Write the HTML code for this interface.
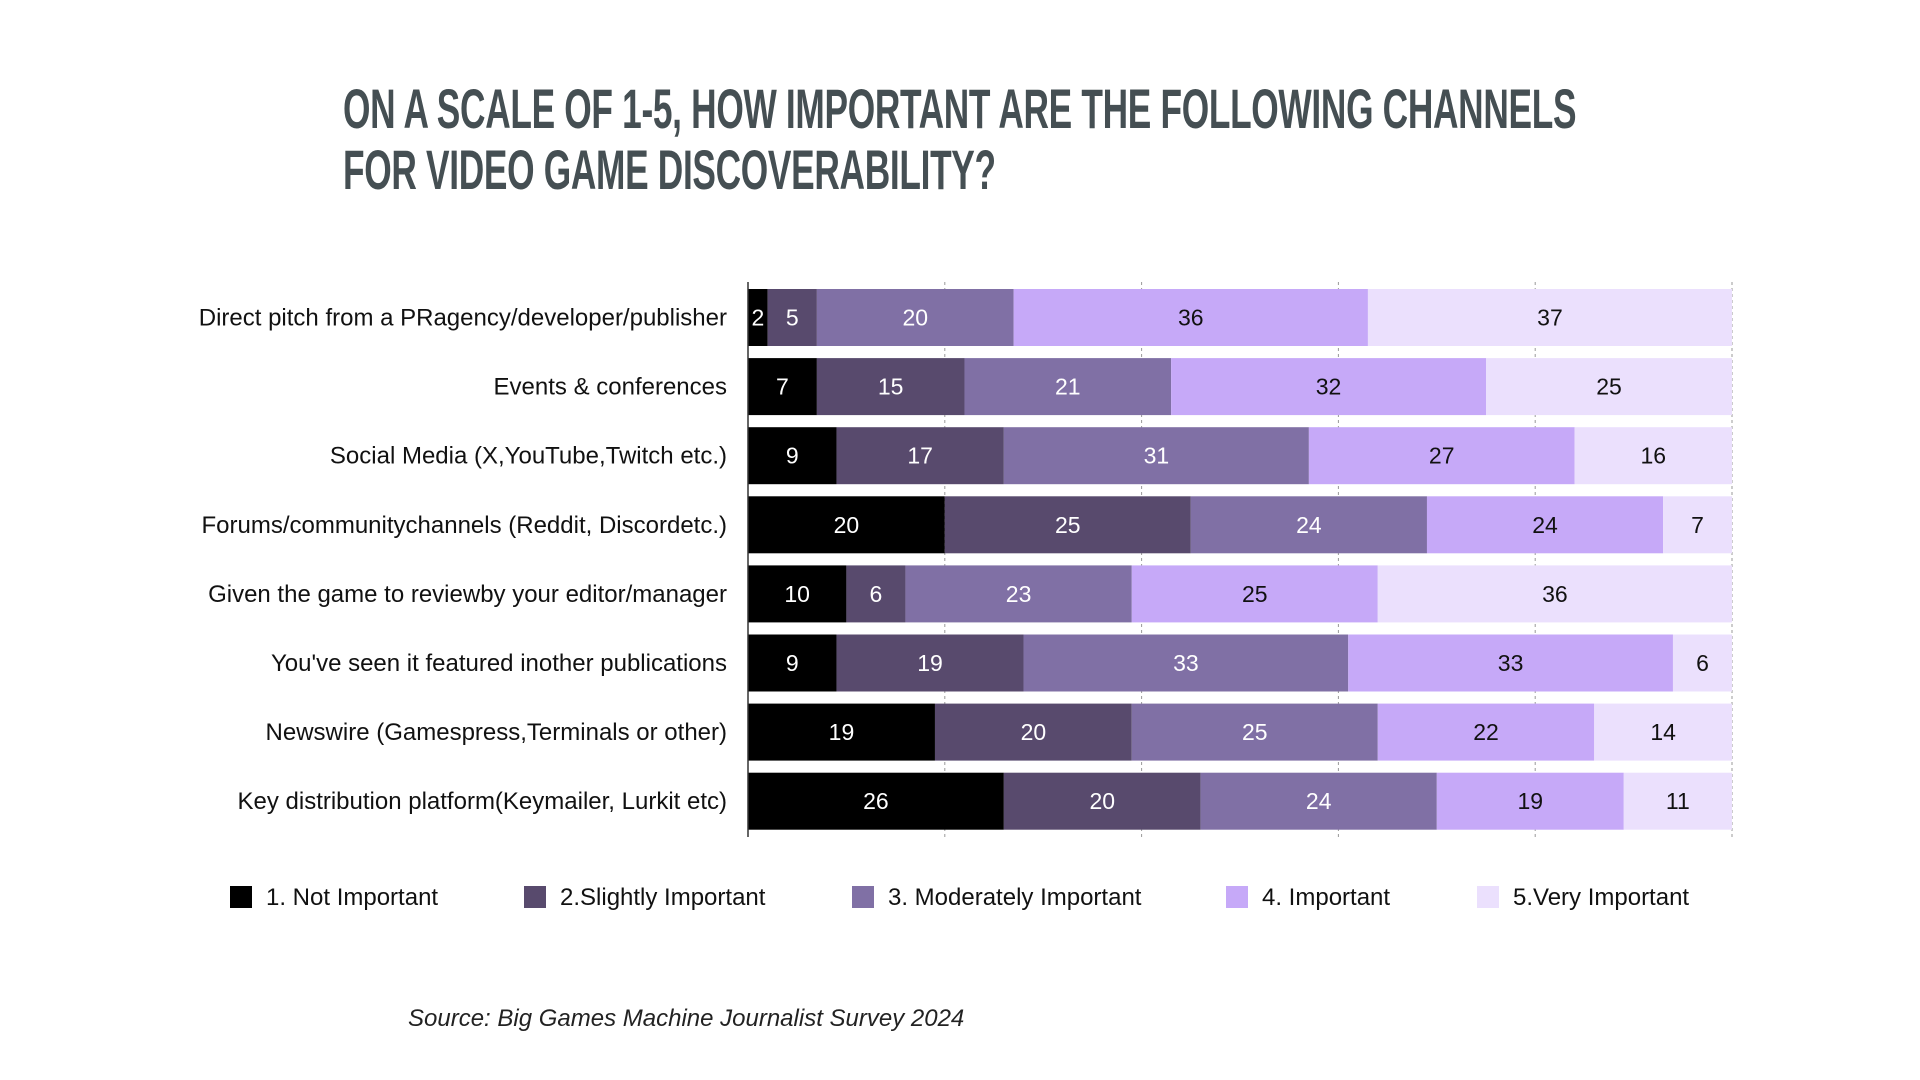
<!DOCTYPE html>
<html><head><meta charset="utf-8"><style>
body{margin:0;width:1920px;height:1080px;background:#fff;font-family:"Liberation Sans",sans-serif;overflow:hidden;position:relative}
#title{position:absolute;left:343px;top:78px;font-weight:bold;font-size:56px;line-height:61px;color:#454f53;transform:scaleX(0.63);transform-origin:left top;white-space:nowrap;letter-spacing:-0.5px}
#source{position:absolute;left:408px;top:1005px;font-size:24px;font-style:italic;color:#222}
</style></head><body>
<div id="title">ON A SCALE OF 1-5, HOW IMPORTANT ARE THE FOLLOWING CHANNELS<br>FOR VIDEO GAME DISCOVERABILITY?</div>
<svg id="chart" width="1920" height="1080" style="position:absolute;left:0;top:0"></svg>
<div id="source">Source: Big Games Machine Journalist Survey 2024</div>
<script>
const categories=["Direct pitch from a PRagency/developer/publisher","Events & conferences","Social Media (X,YouTube,Twitch etc.)","Forums/communitychannels (Reddit, Discordetc.)","Given the game to reviewby your editor/manager","You've seen it featured inother publications","Newswire (Gamespress,Terminals or other)","Key distribution platform(Keymailer, Lurkit etc)"];
const seriesNames=["1. Not Important","2.Slightly Important","3. Moderately Important","4. Important","5.Very Important"];
const s1=[2,7,9,20,10,9,19,26];
const s2=[5,15,17,25,6,19,20,20];
const s3=[20,21,31,24,23,33,25,24];
const s4=[36,32,27,24,25,33,22,19];
const s5=[37,25,16,7,36,6,14,11];
const gridTicks=[0,20,40,60,80,100];
const series=[s1,s2,s3,s4,s5];
const colors=["#000000","#584a6d","#8070a5","#c6a9f8","#ebe0fd"];
const textColors=["#fff","#fff","#fff","#111","#111"];
const NS="http://www.w3.org/2000/svg";
const svg=document.getElementById('chart');
const X0=748,X1=1732,Y0=289,PITCH=69.1,BH=57;
const xs=v=>X0+(v/100)*(X1-X0);
const ys=i=>Y0+i*PITCH;
function mk(t,a){const e=document.createElementNS(NS,t);for(const k in a)e.setAttribute(k,a[k]);svg.appendChild(e);return e;}
gridTicks.forEach((t,i)=>{if(i===0)return;const g=mk('line',{x1:xs(t),x2:xs(t),y1:282,y2:837,stroke:'#999','stroke-width':1,'stroke-dasharray':'3,3'});

});
categories.forEach((c,i)=>{
 let acc=0;
 series.forEach((s,k)=>{
  const v=s[i];
  const r=mk('rect',{x:xs(acc),y:ys(i),width:xs(acc+v)-xs(acc),height:BH,fill:colors[k]});
  
  
  const t=mk('text',{x:(xs(acc)+xs(acc+v))/2,y:ys(i)+BH/2+8,'text-anchor':'middle','font-size':23,fill:textColors[k]});
  t.textContent=v;
  
  
  acc+=v;
 });
 const l=mk('text',{x:727,y:ys(i)+BH/2+8,'text-anchor':'end','font-size':24,fill:'#111'});
 l.textContent=c;
 
 
});
const ax=mk('line',{x1:X0,x2:X0,y1:282,y2:837,stroke:'#333','stroke-width':1.5});


const legX=[230,524,852,1226,1477];
seriesNames.forEach((n,k)=>{
 const r=mk('rect',{x:legX[k],y:886,width:22,height:22,fill:colors[k]});
 
 
 const t=mk('text',{x:legX[k]+36,y:905,'font-size':24,fill:'#111'});
 t.textContent=n;
 
 
});
</script>
</body></html>
